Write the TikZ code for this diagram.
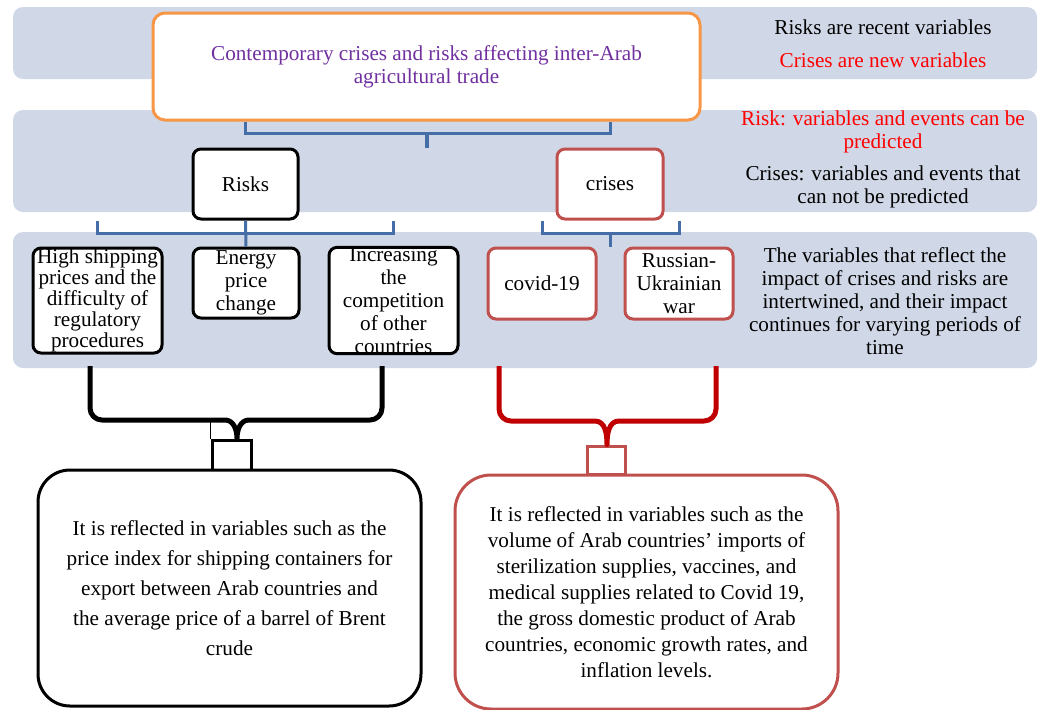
\documentclass[tikz,border=0pt]{standalone}
\usepackage{fontspec}
\setmainfont{Liberation Serif}
\usetikzlibrary{positioning}

\definecolor{bandblue}{RGB}{208,215,230}
\definecolor{linkblue}{RGB}{68,110,165}
\definecolor{titleorange}{RGB}{247,150,70}
\definecolor{titlepurple}{RGB}{112,48,160}
\definecolor{boxred}{RGB}{192,80,77}
\definecolor{bracered}{RGB}{192,0,0}

\begin{document}
\begin{tikzpicture}[
  x=0.5pt, y=-0.5pt,
  font=\fontsize{10.6}{11.5}\selectfont,
  band/.style={fill=bandblue, rounded corners=5pt, inner sep=0pt},
  blackbox/.style={draw, line width=1.5pt, fill=white, rounded corners=4pt,
               inner sep=0pt, align=center},
  redbox/.style={blackbox, draw=boxred},
  bigbox/.style={draw, line width=1.5pt, fill=white, rounded corners=16pt,
               inner sep=0pt, align=center,
               font=\fontsize{10.6}{15}\selectfont},
  note/.style={align=center, inner sep=0pt},
  link/.style={draw=linkblue, line width=1.5pt},
  brace/.style={line width=2.5pt, line join=round}
]
\useasboundingbox (0,0) rectangle (1040,709);

% background bands
\node[band, minimum width=512pt, minimum height=36pt] (bandA) at (525,43) {};
\node[band, minimum width=512pt, minimum height=51pt] (bandB) at (525,161) {};
\node[band, minimum width=512pt, minimum height=68pt] (bandC) at (525,300) {};

% main title
\node[draw=titleorange, line width=1.5pt, fill=white, rounded corners=6pt,
      minimum width=273.5pt, minimum height=53.5pt, align=center,
      text=titlepurple] (title) at (426.5,66.5)
  {Contemporary crises and risks affecting inter-Arab\\agricultural trade};

% second level
\node[blackbox, minimum width=52.5pt, minimum height=35pt] (risks) at (245.5,184) {Risks};
\node[redbox, minimum width=53pt, minimum height=35pt] (crises) at (610,184) {crises};

% third level
\node[blackbox, minimum width=64.5pt, minimum height=52.5pt,
      font=\fontsize{10.6}{10.5}\selectfont] (ship) at (97.5,300.5)
  {High shipping\\prices and the\\difficulty of\\regulatory\\procedures};
\node[blackbox, minimum width=53pt, minimum height=35pt] (energy) at (246,283)
  {Energy\\price\\change};
\node[blackbox, minimum width=64.5pt, minimum height=52.5pt] (compet) at (393.5,300.5)
  {Increasing\\the\\competition\\of other\\countries};
\node[redbox, minimum width=54pt, minimum height=35.5pt] (covid) at (542,283.5) {covid-19};
\node[redbox, minimum width=54pt, minimum height=35.5pt] (war) at (679,283.5)
  {Russian-\\Ukrainian\\war};

% right hand notes
\node[note] (recent) at (883,27) {Risks are recent variables};
\node[note, text=red] (newvar) at (883,60) {Crises are new variables};
\node[note, text=red] (canpred) at (883,132) {Risk: variables and events can be\\predicted};
\node[note] (nopred) at (883,186.5) {Crises: variables and events that\\can not be predicted};
\node[note] (intertw) at (885,301.5)
  {The variables that reflect the\\impact of crises and risks are\\intertwined, and their impact\\continues for varying periods of\\time};

% bottom boxes
\node[draw, line width=1.5pt, fill=white, minimum width=19.5pt, minimum height=15pt] (sqL) at (231.5,455) {};
\node[draw=boxred, line width=1.5pt, fill=white, minimum width=19pt, minimum height=14pt] (sqR) at (606,460) {};
\node[bigbox, minimum width=191.5pt, minimum height=118pt] (effL) at (229.5,588)
  {It is reflected in variables such as the\\price index for shipping containers for\\export between Arab countries and\\the average price of a barrel of Brent\\crude};
\node[bigbox, draw=boxred, minimum width=191.5pt, minimum height=117pt,
      rounded corners=18pt, font=\fontsize{10.6}{13}\selectfont] (effR) at (646.5,592)
  {It is reflected in variables such as the\\volume of Arab countries' imports of\\sterilization supplies, vaccines, and\\medical supplies related to Covid 19,\\the gross domestic product of Arab\\countries, economic growth rates, and\\inflation levels.};

% blue links
\coordinate (topbar) at (427,133);
\coordinate (midbar) at (246,233);
\draw[link] (risks |- title.south) |- (topbar) -| (crises |- title.south);
\draw[link, line width=2.2pt] (topbar) -- ++(0,15);
\draw[link] (ship.north |- risks.south) |- (compet.north |- midbar)
  -- (compet.north |- risks.south);
\draw[link] (risks) -- (energy);
\draw[link] (covid.north |- crises.south) |- (war.north |- midbar)
  -- (war.north |- crises.south);
\draw[link] (crises.south |- midbar) -- (crises.south |- covid.north);

% braces
\coordinate (blackL) at (90,366);
\coordinate (blackR) at (382,366);
\coordinate (redL) at (499,366);
\coordinate (redR) at (716,366);
\draw[brace] (blackL) -- (90,408) to[out=-90,in=180] (102,420) -- (225,420)
  to[out=0,in=90] ([xshift=2.75pt]sqL.north) to[out=90,in=180] (249,420)
  -- (370,420) to[out=0,in=-90] (382,408) -- (blackR);
\draw[brace, bracered] (redL) -- (499,409) to[out=-90,in=180] (511,421) -- (595,421)
  to[out=0,in=90] ([xshift=0.5pt]sqR.north) to[out=90,in=180] (619,421)
  -- (704,421) to[out=0,in=-90] (716,409) -- (redR);
\draw[line width=0.4pt] (sqL.north west) -- ++(0,-21);

\end{tikzpicture}
\end{document}
